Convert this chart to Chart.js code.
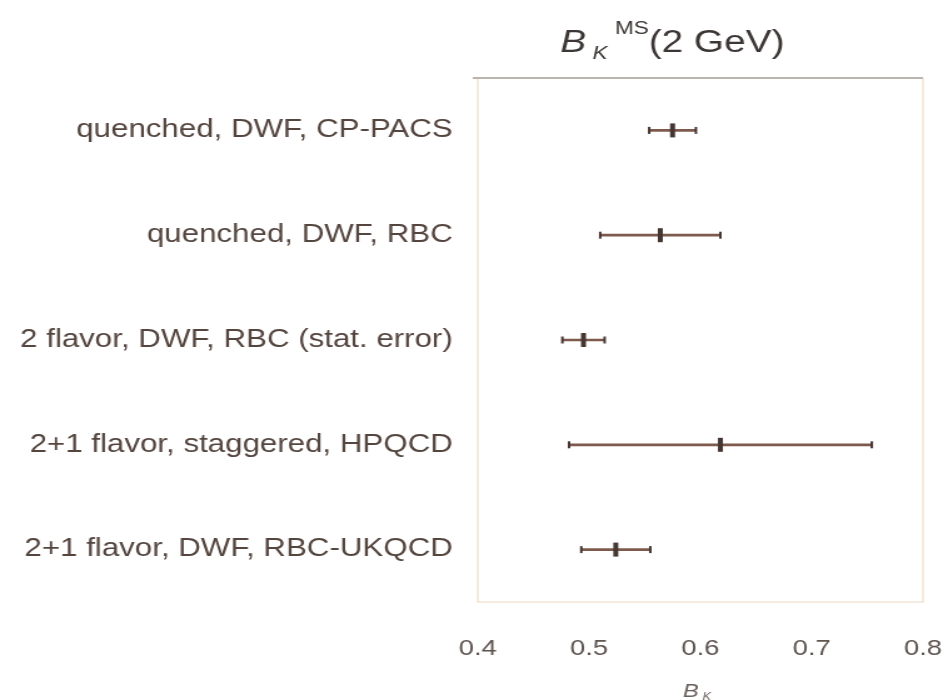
<!DOCTYPE html>
<html lang="en">
<head>
  <meta charset="UTF-8">
  <title>B_K lattice results</title>
  <script src="https://cdn.jsdelivr.net/npm/chart.js"></script>
  <style>
    html, body { margin: 0; padding: 0; background: #fff; }
    /* canvas is drawn narrow and stretched wide, like the slide it comes from */
    #bkChart { display: block; width: 943px !important; height: 700px !important; }
  </style>
</head>
<body>
  <canvas id="bkChart" width="754" height="700" style="width:943px;height:700px"></canvas>

  <script>
    // Lattice results for B_K (MS-bar, 2 GeV)
    const categories = [
      'quenched, DWF, CP-PACS',
      'quenched, DWF, RBC',
      '2 flavor, DWF, RBC (stat. error)',
      '2+1 flavor, staggered, HPQCD',
      '2+1 flavor, DWF, RBC-UKQCD'
    ];
    const centralValues = [0.575, 0.564, 0.495, 0.618, 0.524];
    const errors = [0.021, 0.054, 0.019, 0.136, 0.031];
    const xTicks = [0.4, 0.5, 0.6, 0.7, 0.8];

    const lineColor = '#7d5a4c';
    const markColor = '#463632';
    const textColor = '#54453f';
    const fontFamily = "'Liberation Sans', Arial, sans-serif";

    const errorRanges = centralValues.map((v, i) => [v - errors[i], v + errors[i]]);
    const capPoints = [];
    centralValues.forEach((v, i) => {
      capPoints.push({ x: v - errors[i], y: categories[i] });
      capPoints.push({ x: v + errors[i], y: categories[i] });
    });

    // frame round the plot area plus the two titles with sub/superscripts
    const decorations = {
      id: 'decorations',
      afterDraw(chart) {
        const { ctx, chartArea: a } = chart;
        ctx.save();
        ctx.lineWidth = 1.5;
        ctx.strokeStyle = '#f1e4d2';
        ctx.beginPath();
        ctx.moveTo(a.left, a.top);
        ctx.lineTo(a.left, a.bottom);
        ctx.lineTo(a.right, a.bottom);
        ctx.lineTo(a.right, a.top);
        ctx.stroke();
        ctx.strokeStyle = '#bcb5ae';
        ctx.lineWidth = 2;
        ctx.beginPath();
        ctx.moveTo(a.left - 4, a.top);
        ctx.lineTo(a.right, a.top);
        ctx.stroke();

        // top title: B_K^MS(2 GeV)
        ctx.fillStyle = '#3c3634';
        ctx.textBaseline = 'alphabetic';
        ctx.textAlign = 'left';
        let x = 448;
        ctx.font = 'italic 31px ' + fontFamily;
        ctx.fillText('B', x, 52);
        x += ctx.measureText('B').width + 5;
        ctx.font = 'italic 18px ' + fontFamily;
        ctx.fillText('K', x, 59);
        x += ctx.measureText('K').width + 6;
        ctx.font = '18px ' + fontFamily;
        ctx.fillText('MS', x, 34);
        x += ctx.measureText('MS').width;
        ctx.font = '31px ' + fontFamily;
        ctx.fillText('(2 GeV)', x, 52);

        // x axis title: B_K
        ctx.fillStyle = '#6a605c';
        ctx.font = 'italic 19px ' + fontFamily;
        let bx = 546;
        ctx.fillText('B', bx, 697);
        bx += ctx.measureText('B').width + 3;
        ctx.font = 'italic 10px ' + fontFamily;
        ctx.fillText('K', bx, 700);
        ctx.restore();
      }
    };

    new Chart(document.getElementById('bkChart'), {
      type: 'bar',
      data: {
        labels: categories,
        datasets: [
          {
            // error bar span
            data: errorRanges,
            backgroundColor: lineColor,
            borderWidth: 0,
            barThickness: 2,
            order: 3
          },
          {
            // end caps
            type: 'scatter',
            data: capPoints,
            pointStyle: 'line',
            rotation: 90,
            radius: 3.5,
            borderWidth: 2,
            borderColor: markColor,
            order: 2
          },
          {
            // central values
            type: 'scatter',
            data: centralValues.map((v, i) => ({ x: v, y: categories[i] })),
            pointStyle: 'line',
            rotation: 90,
            radius: 7,
            borderWidth: 4,
            borderColor: markColor,
            order: 1
          }
        ]
      },
      options: {
        indexAxis: 'y',
        responsive: false,
        animation: false,
        events: [],
        layout: { padding: { top: 78, right: 16, left: 0, bottom: 0 } },
        plugins: {
          legend: { display: false },
          tooltip: { enabled: false },
          title: { display: false }
        },
        scales: {
          x: {
            type: 'linear',
            min: 0.4,
            max: 0.8,
            afterFit: s => { s.height = 98; s.paddingLeft = 0; s.paddingRight = 0; },
            afterBuildTicks: s => { s.ticks = xTicks.map(v => ({ value: v })); },
            grid: { display: false, drawTicks: false },
            border: { display: false },
            ticks: {
              padding: 34,
              color: '#5e5450',
              font: { family: fontFamily, size: 22 },
              callback: v => v.toFixed(1)
            }
          },
          y: {
            type: 'category',
            offset: true,
            afterFit: s => { s.width = 382; s.paddingTop = 0; s.paddingBottom = 0; },
            grid: { display: false, drawTicks: false },
            border: { display: false },
            ticks: {
              padding: 20,
              color: textColor,
              font: { family: fontFamily, size: 25 }
            }
          }
        }
      },
      plugins: [decorations]
    });
  </script>
</body>
</html>
